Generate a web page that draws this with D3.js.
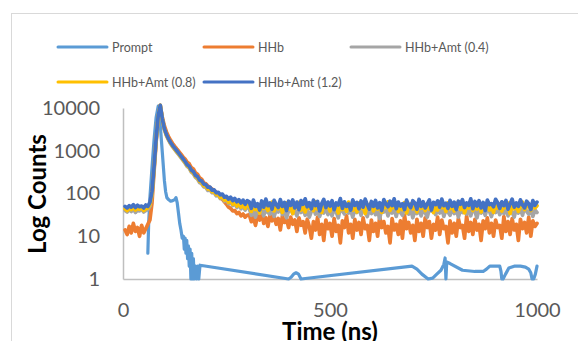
<!DOCTYPE html>
<html><head><meta charset="utf-8">
<script src="https://cdn.jsdelivr.net/npm/d3@7"></script>
<style>html,body{margin:0;padding:0;background:#fff;}svg{display:block;}</style>
</head><body>
<svg id="chart" width="578" height="341"></svg>
<script>
// ---------- DATA ----------
const seriesNames = ["Prompt", "HHb", "HHb+Amt (0.4)", "HHb+Amt (0.8)", "HHb+Amt (1.2)"];
const seriesColors = ["#5B9BD5", "#ED7D31", "#A5A5A5", "#FFC000", "#4472C4"];
const xTicks = [0, 500, 1000];
const yTicks = [1, 10, 100, 1000, 10000];

// sample times (ns) for the four sample series: 5, 10, ..., 1000
const sampleTimes = d3.range(5, 1001, 5);

const hhb = [14,11,17,12,20,13,16,10,18,12,15,19,24,
60,320,1600,6000,11500,6000,3800,2750,2150,1750,1480,1270,1100,960,830,715,
640,540,495,405,375,305,282,232,215,178,170,150,138,128,118,106,96,84,74,64,56,48,45,39,40,34,36,30,33,28,31,
32,22,28,18,30,24,35,20,27,17,31,23,29,19,26,14,30,21,25,16,28,19,24,13,27,18,22,12,25,
17,9,22,14,28,11,19,8,24,15,
20,10,26,13,18,7,23,16,30,12,
19,9,25,14,21,11,27,15,18,8,
24,13,20,10,29,16,22,12,17,7,
26,14,19,11,23,9,31,15,21,12,
18,8,25,13,20,10,27,16,22,9,
19,14,28,11,24,15,17,7,23,12,
20,10,26,16,18,9,30,13,21,11,
25,14,19,8,23,15,27,12,20,10,
24,16,18,9,29,13,22,11,26,14,
19,8,25,15,21,12,28,10,23,17,
20];

const amt04 = [40,37,42,38,44,36,41,39,43,37,40,42,50,
95,380,1750,6200,11500,5400,3100,2250,1780,1460,1230,1060,920,800,690,595,
510,430,390,318,290,238,218,180,170,143,140,118,122,104,106,88,92,76,82,66,72,58,66,52,60,47,56,44,52,41,50,
44,31,40,28,46,35,42,30,48,36,
33,45,29,41,37,50,32,43,27,39,
46,34,40,30,44,36,48,31,42,28,
38,47,33,45,29,41,35,49,32,43,
30,44,37,27,46,39,33,48,35,41,
28,42,36,50,31,45,38,29,43,34,
47,32,40,26,44,37,49,30,41,35,
43,29,46,36,31,48,38,33,45,27,
40,34,47,30,42,36,28,44,39,50,
32,41,35,46,29,43,37,31,48,34,
45,28,40,36,49,33,42,30,46,38,
27,44,35,41,31,47,39,29,43,36,
48,32,40,34,45,30,42,37,28,46,
35,43,31,49,38,33,44,29,41,36];

const amt08 = [44,40,46,42,48,41,45,43,47,40,44,46,55,
100,400,1820,6300,11500,5500,3200,2320,1840,1510,1280,1100,960,835,720,620,
535,450,410,335,305,252,232,192,182,152,150,127,130,110,113,94,99,80,88,70,79,62,72,56,66,51,62,48,58,45,56,
52,38,58,42,49,35,61,45,55,40,
47,63,39,53,44,57,36,50,60,43,
48,34,56,46,62,41,51,37,59,45,
54,40,64,43,50,36,58,47,53,39,
61,44,49,35,57,42,55,38,63,46,
41,52,37,60,45,50,34,56,48,62,
39,54,43,58,36,51,47,64,40,53,
46,59,38,55,42,61,35,49,57,44,
50,37,62,45,53,40,58,43,48,36,
56,41,63,47,52,38,60,44,54,39,
49,64,42,57,35,51,46,59,40,55,
43,61,37,53,48,58,41,50,36,62,
45,56,39,52,47,60,34,54,44,57,
38,51,63,42,49,55,40,58,46,52];

const amt12 = [50,46,52,48,55,47,53,49,51,46,54,50,62,
110,420,1900,6500,11500,5600,3300,2400,1900,1560,1320,1150,1000,870,750,650,
560,470,430,350,325,265,248,205,196,166,162,140,142,120,122,104,107,93,97,82,86,74,82,68,77,64,72,60,70,56,68,
64,45,70,50,58,41,67,48,74,52,
60,43,69,55,47,72,50,62,40,66,
53,71,46,63,42,68,56,75,49,61,
44,70,52,65,39,58,73,47,63,51,
68,42,60,54,76,45,64,50,57,41,
71,53,62,44,67,48,74,55,43,65,
50,69,46,61,40,72,57,49,66,52,
75,44,63,51,58,42,70,54,47,68,
60,43,73,50,64,46,57,71,41,62,
55,67,48,74,52,59,45,69,50,63,
42,66,56,72,47,60,53,75,44,65,
51,68,46,62,40,70,55,58,49,73,
61,45,64,52,69,43,57,74,48,60,
50,71,54,46,66,58,42,68,53,63];

// prompt (instrument response): times and counts (zero counts omitted)
const promptTimes = [60,62,65,70,75,80,85,90,95,100,103,106,110,115,120,125,128,131,134,137,140,143,146,148,150,152,154,156,158,160,162,164,166,168,170,172,175,178,180,183,186,
400,406,412,418,424,430,
698,710,722,737,748,758,768,775,778,780,782,790,
820,850,870,878,886,910,913,915,918,924,932,945,960,972,980,985,988,992,996,1000];
const promptCounts = [4,20,80,400,1800,6000,11000,4000,900,200,110,80,72,66,68,72,80,60,35,20,14,9,10,5,9,4,8,3,6,2,5,1,4,1,3,1,2,1,2,1,2.1,
1,1.1,1.3,1.4,1.3,1,
2,1.7,1.3,1,1.05,1.3,1.6,2.2,3.1,1,2.5,2.3,
1.6,1.5,1.5,1.7,2,2,1.5,1,1,1.3,1.8,2,2,1.9,1.7,1.4,1,1,1.3,2];

// ---------- CHART ----------
const svg = d3.select("#chart");
const W = 578, H = 341;
const plot = {left: 123, right: 537, top: 108, bottom: 279};
const font = "Lato, 'Open Sans', sans-serif";

svg.append("rect").attr("x", 0).attr("y", 0).attr("width", W).attr("height", H).attr("fill", "#fff");
svg.append("rect").attr("x", 11.5).attr("y", 13.5).attr("width", 700).attr("height", 500)
  .attr("fill", "none").attr("stroke", "#d9d9d9").attr("stroke-width", 1);

const x = d3.scaleLinear().domain([0, 1000]).range([plot.left, plot.right]);
const y = d3.scaleLog().domain([1, 10000]).range([plot.bottom, plot.top]);

// axes
const yAxis = svg.append("g").attr("transform", `translate(${plot.left},0)`)
  .call(d3.axisLeft(y).tickValues(yTicks).tickFormat(d3.format("d")).tickSize(0).tickPadding(23));
const xAxis = svg.append("g").attr("transform", `translate(0,${plot.bottom})`)
  .call(d3.axisBottom(x).tickValues(xTicks).tickFormat(d3.format("d")).tickSize(0).tickPadding(24));
[yAxis, xAxis].forEach(g => {
  g.select(".domain").attr("stroke", "#bfbfbf").attr("stroke-width", 1.5);
  g.selectAll("text").attr("font-family", font).attr("font-size", 20).attr("fill", "#595959");
});

// series
const allSeries = [
  {t: promptTimes, v: promptCounts, w: 3.2},
  {t: sampleTimes, v: hhb, w: 3.7},
  {t: sampleTimes, v: amt04, w: 3.7},
  {t: sampleTimes, v: amt08, w: 3.7},
  {t: sampleTimes, v: amt12, w: 3.7}
];
const line = d3.line().x(d => x(d[0])).y(d => y(d[1])).curve(d3.curveLinear);
allSeries.forEach((s, i) => {
  const n = Math.min(s.t.length, s.v.length);
  const pts = d3.range(n).map(k => [s.t[k], s.v[k]]).filter(p => p[1] > 0);
  svg.append("path").datum(pts).attr("d", line)
    .attr("fill", "none").attr("stroke", seriesColors[i]).attr("stroke-width", s.w)
    .attr("stroke-linejoin", "round").attr("stroke-linecap", "round");
});

// axis titles
svg.append("text").attr("transform", "translate(36,194) rotate(-90)")
  .attr("text-anchor", "middle").attr("dominant-baseline", "central")
  .attr("font-family", font).attr("font-weight", "bold").attr("font-size", 24).attr("fill", "#000")
  .text("Log Counts");
svg.append("text").attr("x", 330).attr("y", 340).attr("text-anchor", "middle")
  .attr("font-family", font).attr("font-weight", "bold").attr("font-size", 24).attr("fill", "#000")
  .text("Time (ns)");

// legend
const legendPos = [[58, 47], [204, 47], [351, 47], [58, 82], [204, 82]];
seriesNames.forEach((name, i) => {
  const [lx, ly] = legendPos[i];
  const g = svg.append("g");
  g.append("line").attr("x1", lx).attr("x2", lx + 49).attr("y1", ly).attr("y2", ly)
    .attr("stroke", seriesColors[i]).attr("stroke-width", 3).attr("stroke-linecap", "round");
  g.append("text").attr("x", lx + 54).attr("y", ly).attr("dominant-baseline", "central")
    .attr("font-family", font).attr("font-size", 12.5).attr("fill", "#595959").text(name);
});
</script>
</body></html>
